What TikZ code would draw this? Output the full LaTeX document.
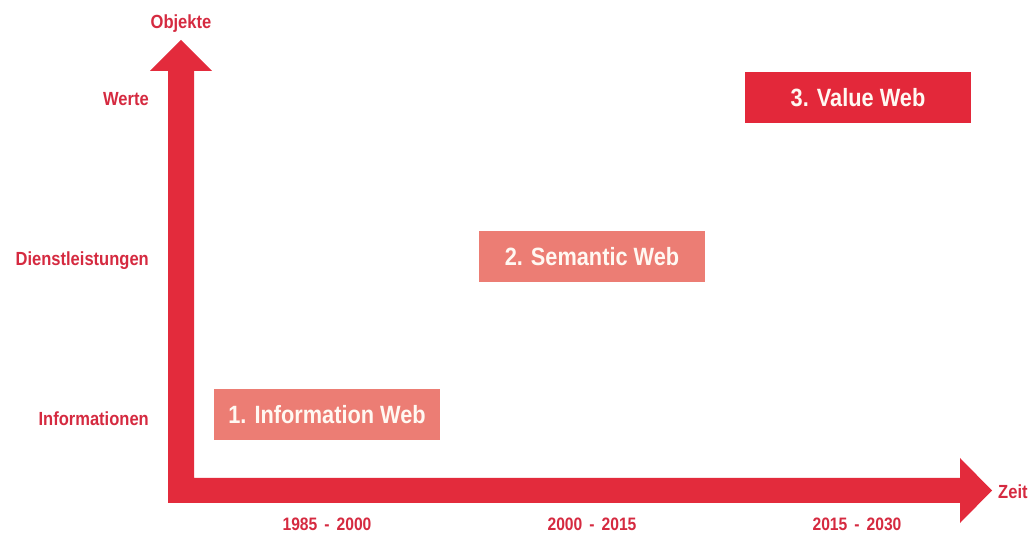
\documentclass[tikz,border=0pt]{standalone}
\usepackage{fontspec}
\setmainfont[FakeStretch=0.87]{Liberation Sans}
\definecolor{arrowred}{HTML}{E32B3C}
\definecolor{boxred}{HTML}{E3283A}
\definecolor{boxsalmon}{HTML}{EC7D74}
\definecolor{labred}{HTML}{D52A40}
\definecolor{boxtext}{HTML}{FFF8F2}
\tikzset{
  webbox/.style={rectangle, inner sep=0pt, minimum width=226pt, minimum height=51pt,
    text=boxtext, font=\bfseries\fontsize{25}{30}\selectfont, text height=18pt, text depth=0pt},
  axlab/.style={inner sep=0pt, text=labred, font=\bfseries\fontsize{19}{22}\selectfont},
  yearlab/.style={inner sep=0pt, text=labred, font=\bfseries\fontsize{18}{20}\selectfont, anchor=base}
}
\newcommand{\yrdash}{\hspace{7pt}-\hspace{7pt}}
\begin{document}
\begin{tikzpicture}[x=1pt,y=-1pt]
\useasboundingbox (0,0) rectangle (1034,534);
% L-shaped axes arrow
\fill[arrowred] (168,503) -- (168,71) -- (150,71) -- (181,40) -- (212,71) -- (194,71)
  -- (194,478) -- (960,478) -- (960,458) -- (992,490.5) -- (960,523) -- (960,503) -- cycle;
% boxes
\node[webbox, fill=boxred] (value) at (858,97.5) {3. Value Web};
\node[webbox, fill=boxsalmon] (semantic) at (592,256.5) {2. Semantic Web};
\node[webbox, fill=boxsalmon] (info) at (327,415) {1. Information Web};
% axis labels
\node[axlab, anchor=base] (objekte) at (181,29) {Objekte};
\node[axlab, anchor=base east] (werte) at (149,106) {Werte};
\node[axlab, anchor=base east] (dienst) at (149,266) {Dienstleistungen};
\node[axlab, anchor=base east] (informationen) at (149,426) {Informationen};
\node[axlab, anchor=base west] (zeit) at (998,499) {Zeit};
% years
\node[yearlab] (y1) at (327,530) {1985\yrdash2000};
\node[yearlab] (y2) at (592,530) {2000\yrdash2015};
\node[yearlab] (y3) at (857,530) {2015\yrdash2030};
\end{tikzpicture}
\end{document}
